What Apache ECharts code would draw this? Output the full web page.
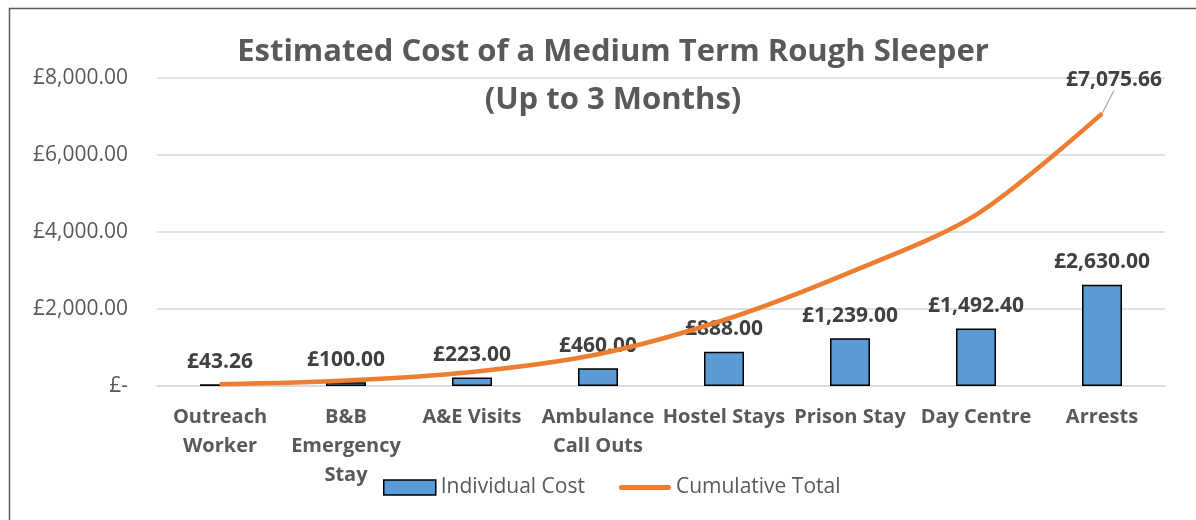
<!DOCTYPE html>
<html>
<head>
<meta charset="utf-8">
<script src="https://cdn.jsdelivr.net/npm/echarts@6/dist/echarts.min.js"></script>
<style>
  html, body { margin: 0; padding: 0; background: #fff; }
  #main { width: 1196px; height: 520px; }
</style>
</head>
<body>
<div id="main"></div>
<script>
var categories = ['Outreach\nWorker', 'B&B\nEmergency\nStay', 'A&E Visits', 'Ambulance\nCall Outs',
  'Hostel Stays', 'Prison Stay', 'Day Centre', 'Arrests'];
var individualCost = [43.26, 100.00, 223.00, 460.00, 888.00, 1239.00, 1492.40, 2630.00];
var cumulativeTotal = [43.26, 143.26, 366.26, 826.26, 1714.26, 2953.26, 4445.66, 7075.66];
var yTicks = [0, 2000, 4000, 6000, 8000];

var font = '"Open Sans", "DejaVu Sans", sans-serif';

function money(v) {
  if (v === 0) return '£-';
  return '£' + v.toLocaleString('en-GB', { minimumFractionDigits: 2, maximumFractionDigits: 2 });
}

// 累计线只标最后一个点
var lineData = cumulativeTotal.map(function (v, i) {
  if (i !== cumulativeTotal.length - 1) return v;
  return {
    value: v,
    label: {
      show: true, position: 'top', formatter: function (p) { return money(p.value); },
      fontFamily: font, fontWeight: 'bold', fontSize: 21, color: '#404040'
    },
    labelLine: { show: true, lineStyle: { color: '#A6A6A6', width: 1.2 } }
  };
});

var myChart = echarts.init(document.getElementById('main'));
var option = {
  animation: false,
  textStyle: { fontFamily: font },
  title: {
    text: 'Estimated Cost of a Medium Term Rough Sleeper\n(Up to 3 Months)',
    left: 608, top: 23, textAlign: 'center',
    textStyle: { fontFamily: font, fontWeight: 'bold', fontSize: 31, color: '#595959', lineHeight: 48 }
  },
  graphic: [{
    type: 'rect', left: 7, top: 6,
    shape: { width: 1300, height: 600 },
    style: { fill: 'none', stroke: '#595959', lineWidth: 1.5 }
  }],
  legend: {
    bottom: 17, left: 378,
    itemWidth: 52, itemHeight: 15, itemGap: 34,
    textStyle: { fontFamily: font, fontSize: 21, color: '#595959' },
    data: [
      { name: 'Individual Cost', icon: 'rect', itemStyle: { color: '#5B9BD5', borderColor: '#000', borderWidth: 1.5 } },
      {
        name: 'Cumulative Total',
        icon: 'path://M2.5,0 L49.5,0 A2.5,2.5 0 0 1 49.5,5 L2.5,5 A2.5,2.5 0 0 1 2.5,0 Z',
        itemStyle: { color: '#ED7D31' }
      }
    ]
  },
  grid: { left: 157, right: 31, top: 78, bottom: 134 },
  xAxis: {
    type: 'category',
    data: categories,
    axisLine: { show: true, lineStyle: { color: '#D9D9D9', width: 1.5 } },
    axisTick: { show: false },
    axisLabel: {
      interval: 0, margin: 17, fontFamily: font, fontWeight: 'bold', fontSize: 20,
      color: '#595959', lineHeight: 29
    }
  },
  yAxis: {
    type: 'value', min: yTicks[0], max: yTicks[yTicks.length - 1], interval: 2000,
    axisLine: { show: false }, axisTick: { show: false },
    splitLine: { lineStyle: { color: '#D9D9D9', width: 1.5 } },
    axisLabel: { margin: 29, fontFamily: font, fontSize: 21, color: '#595959', formatter: money }
  },
  series: [
    {
      name: 'Individual Cost',
      type: 'bar',
      barWidth: 40,
      data: individualCost,
      itemStyle: { color: '#5B9BD5', borderColor: '#000', borderWidth: 1.5 },
      label: {
        show: true, position: 'top', distance: 12,
        fontFamily: font, fontWeight: 'bold', fontSize: 21, color: '#404040',
        formatter: function (p) { return money(p.value); }
      }
    },
    {
      name: 'Cumulative Total',
      type: 'line',
      smooth: 0.3,
      showSymbol: true,
      symbol: 'circle',
      symbolSize: 2,
      z: 5,
      data: lineData,
      lineStyle: { color: '#ED7D31', width: 4.5 },
      itemStyle: { color: '#ED7D31' },
      labelLayout: { dx: 12, dy: -17 }
    }
  ]
};
myChart.setOption(option);
</script>
</body>
</html>
